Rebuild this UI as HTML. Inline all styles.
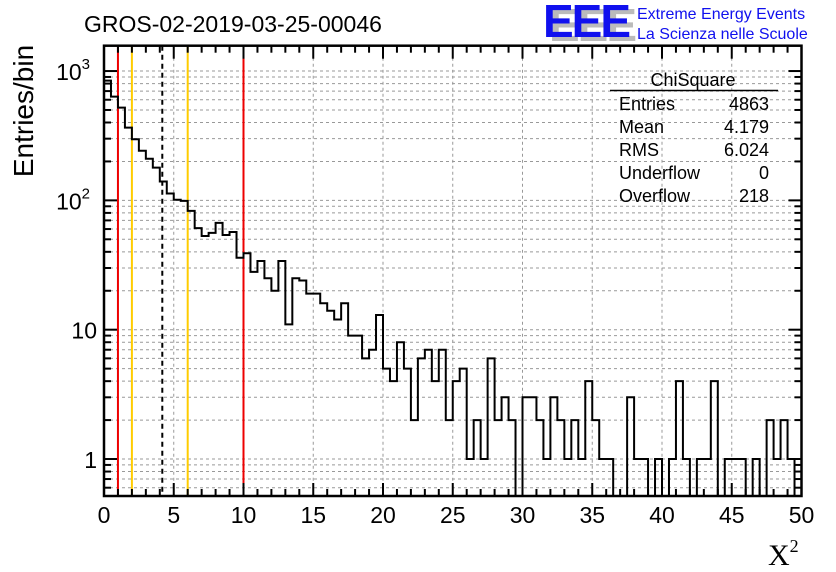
<!DOCTYPE html>
<html><head><meta charset="utf-8">
<style>
html,body{margin:0;padding:0;background:#fff;}
svg{display:block;font-family:"Liberation Sans",sans-serif;}
</style></head>
<body>
<svg id="c" width="836" height="572" viewBox="0 0 836 572" xmlns="http://www.w3.org/2000/svg">
<text x="84" y="32" font-size="23" fill="#000">GROS-02-2019-03-25-00046</text>
<g>
<text x="549" y="41" font-size="46" font-weight="bold" fill="#bbb" letter-spacing="-2">EEE</text>
<text x="543" y="37" font-size="46" font-weight="bold" fill="#1010ee" letter-spacing="-2">EEE</text>
<text x="637" y="19" font-size="16" fill="#1010ee">Extreme Energy Events</text>
<text x="637" y="39" font-size="16" fill="#1010ee">La Scienza nelle Scuole</text>
</g>
<g id="grid"></g>
<g id="vlines"></g>
<path id="hist" fill="none" stroke="#000" stroke-width="2"/>
<g id="axes"></g>
<g font-size="18">
<text x="693" y="86" text-anchor="middle">ChiSquare</text>
<line x1="610" y1="90.5" x2="778" y2="90.5" stroke="#000" stroke-width="1.5"/>
<text x="619" y="110">Entries</text><text x="769" y="110" text-anchor="end">4863</text>
<text x="619" y="133">Mean</text><text x="769" y="133" text-anchor="end">4.179</text>
<text x="619" y="156">RMS</text><text x="769" y="156" text-anchor="end">6.024</text>
<text x="619" y="179">Underflow</text><text x="769" y="179" text-anchor="end">0</text>
<text x="619" y="202">Overflow</text><text x="769" y="202" text-anchor="end">218</text>
</g>
<text transform="translate(33,111) rotate(-90)" text-anchor="middle" font-size="28">Entries/bin</text>
<text x="768" y="565" font-size="30" font-family="Liberation Serif,serif">X<tspan font-size="18" dy="-13">2</tspan></text>
</svg>
<script>
const binValues=[843,634,521,365,297,242,210,179,140,113,101,99,83,61,53,56,67,54,57,36,
39,28,34,25,20,34,11,25,24,19,19,16,14,12,16,9,9,6,7,13,
5,4,8,5,2,6,7,4,7,2,4,5,1,2,1,6,2,3,2,0,
3,3,2,1,3,2,1,2,1,4,2,1,1,0,0,3,1,1,0,1,
0,1,4,1,0,1,1,4,0,1,1,1,0,1,0,2,1,2,1,0];
const xTicks=[0,5,10,15,20,25,30,35,40,45,50];
const yTickLabels=["1","10","10²","10³"];
const refLines=[{x:1,c:"#ee0000",d:""},{x:2,c:"#ffcc00",d:""},{x:4.179,c:"#000",d:"5,4"},{x:6,c:"#ffcc00",d:""},{x:10,c:"#ee0000",d:""}];
const NS="http://www.w3.org/2000/svg";
const L=104,R=801.5,T=45.7,B=496;
const xmin=0,xmax=50,binW=0.5;
const lmin=-0.286,lmax=3.196;
const X=v=>L+(v-xmin)/(xmax-xmin)*(R-L);
const Y=v=>B-(Math.log10(v)-lmin)/(lmax-lmin)*(B-T);
function mk(tag,attrs,parent){const e=document.createElementNS(NS,tag);for(const k in attrs)e.setAttribute(k,attrs[k]);parent.appendChild(e);return e;}
const grid=document.getElementById('grid'),axes=document.getElementById('axes'),vl=document.getElementById('vlines');
xTicks.forEach(t=>{if(t>0&&t<50){const g=mk('line',{x1:X(t),x2:X(t),y1:T,y2:B,stroke:'#999','stroke-dasharray':'3,3','stroke-width':1},grid);

}});
for(let d=-1;d<=3;d++)for(let m=1;m<10;m++){const v=m*Math.pow(10,d);const y=Y(v);if(y<T||y>B)continue;
const g=mk('line',{x1:L,x2:R,y1:y,y2:y,stroke:'#999','stroke-dasharray':'3,3','stroke-width':1},grid);


const tl=m===1?13:7;
const t1=mk('line',{x1:L,x2:L+tl,y1:y,y2:y,stroke:'#000','stroke-width':2},axes);


const t2=mk('line',{x1:R,x2:R-tl,y1:y,y2:y,stroke:'#000','stroke-width':2},axes);

}
refLines.forEach(r=>{const e=mk('line',{x1:X(r.x),x2:X(r.x),y1:T,y2:B,stroke:r.c,'stroke-width':2},vl);if(r.d)e.setAttribute('stroke-dasharray',r.d);

});
let d='';
binValues.forEach((v,i)=>{const x0=X(i*binW),x1=X((i+1)*binW);const y=v>0?Math.max(T,Y(v)):B;
d+=(i===0?`M${x0},${B}`:'')+`L${x0},${y}L${x1},${y}`;});
d+=`L${R},${B}`;
document.getElementById('hist').setAttribute('d',d);
for(let t=0;t<=50;t++){const x=X(t);const tl=t%5===0?13:7;
const a=mk('line',{x1:x,x2:x,y1:B,y2:B-tl,stroke:'#000','stroke-width':2},axes);


const b=mk('line',{x1:x,x2:x,y1:T,y2:T+tl,stroke:'#000','stroke-width':2},axes);

}
xTicks.forEach(t=>{const e=mk('text',{x:X(t),y:523,'text-anchor':'middle','font-size':23},axes);e.textContent=String(t);

});
yTickLabels.forEach((s,i)=>{const y=Y(Math.pow(10,i));const e=mk('text',{x:i>=2?90:97,y:y+9,'text-anchor':'end','font-size':23},axes);


if(i>=2){e.textContent='10';const ts=mk('tspan',{'font-size':15,dy:-11},e);ts.textContent=String(i);}else e.textContent=s;});
const fr=mk('rect',{x:L,y:T,width:R-L,height:B-T,fill:'none',stroke:'#000','stroke-width':2.5},axes);


</script>
</body></html>
